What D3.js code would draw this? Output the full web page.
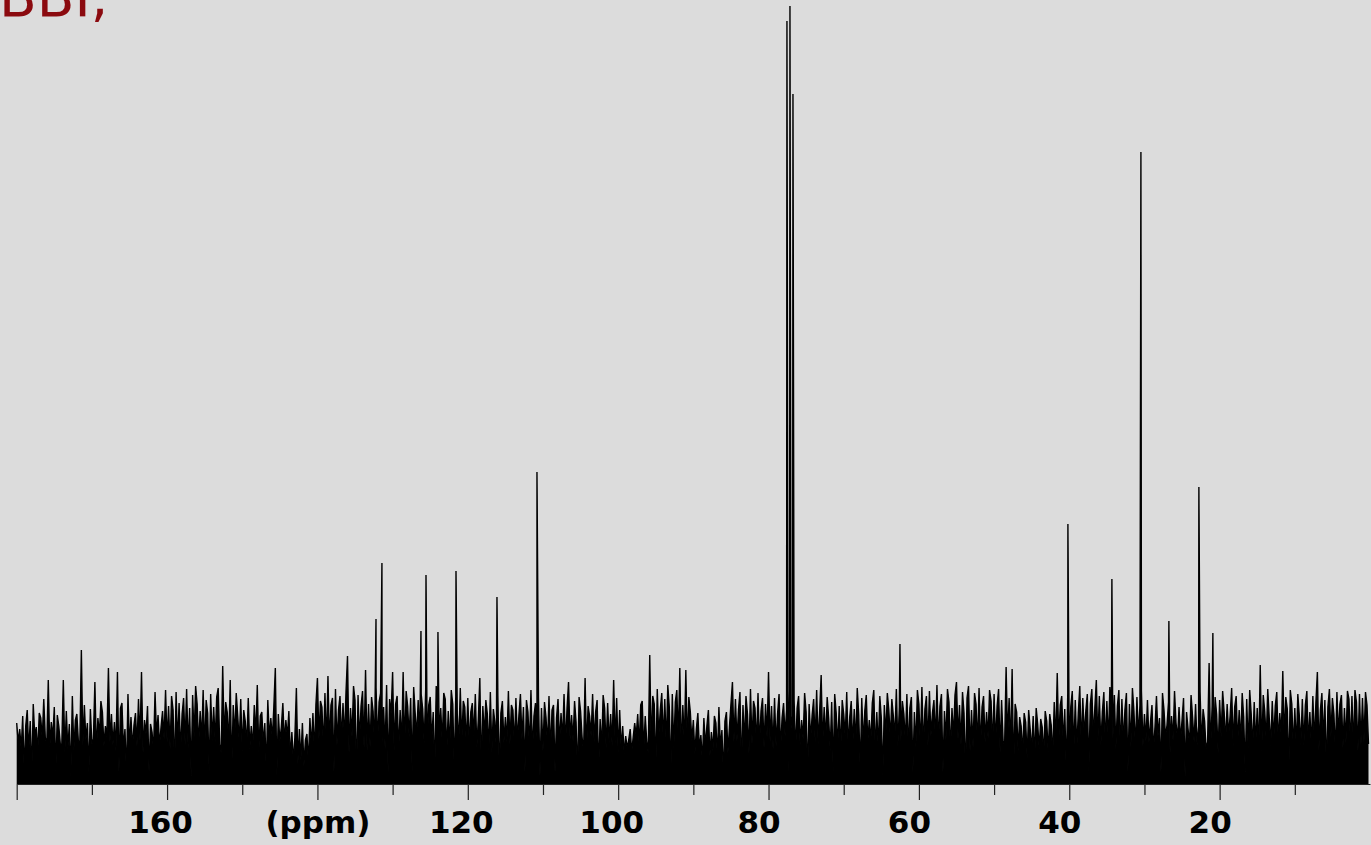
<!DOCTYPE html>
<html><head><meta charset="utf-8">
<script src="https://cdn.jsdelivr.net/npm/d3@7"></script>
<style>html,body{margin:0;padding:0;background:#dcdcdc;overflow:hidden}</style>
</head><body><svg id="chart" width="1371" height="845"></svg>
<script>
// ---- data ----
const titleText = "BBI,";
const noiseStartPpm = 180;
const noiseStepPpm = 0.2;
const noise = [
61,42,55,35,68,12,58,74,33,63, 8,80,48,57,31,71,66,45,85,47, 38,104,36,62,46,77,12,69,58,40, 39,104,31,73,35,60,8,88,33,64, 70,43,42,134,38,79,44,61,12,75,
40,45,102,31,66,49,83,72,38,58, 47,116,42,70,39,62,33,112,12,76, 81,35,55,8,90,37,67,36,59,71, 38,85,43,112,31,64,50,78,12,60, 52,33,92,48,69,38,57,73,45,94,
42,78,35,88,74,12,92,40,81,31, 70,86,39,95,36,76,8,89,47,98, 80,38,73,44,94,33,84,71,12,90, 43,77,42,87,96,40,31,118,45,82, 72,39,104,12,79,47,91,68,42,85,
33,74,63,38,86,35,58,36,79,48, 99,31,68,72,40,61,12,84,46,66, 45,77,116,8,70,43,57,81,42,64, 47,73,25,52,22,47,96,20,55,24, 61,18,44,50,21,66,37,71,31,80,
106,45,83,77,35,91,38,108,40,79, 86,12,95,39,74,88,42,81,44,92, 128,31,76,47,98,84,8,89,43,78, 93,36,114,33,80,37,87,73,38,96, 40,82,91,42,77,35,99,12,85,70,
112,33,80,88,31,74,39,112,36,93, 78,47,86,12,97,71,48,84,42,90, 75,40,95,38,79,87,43,72,8,98, 82,45,76,41,91,85,31,73,35,94, 80,12,88,70,40,96,42,83,77,39,
86,38,72,81,47,90,36,65,106,12, 78,48,84,70,33,92,31,75,62,35, 88,8,71,83,41,67,42,93,40,79, 74,38,86,43,69,90,45,77,12,84, 72,37,94,31,68,81,47,87,8,76,
33,82,67,39,88,31,74,79,12,66, 85,40,71,44,90,38,76,102,45,69, 43,83,62,8,87,73,47,31,106,33, 78,68,48,90,42,72,84,12,65,35, 89,76,36,81,41,70,38,104,40,86,
31,74,35,58,30,48,36,44,55,32, 47,61,48,70,38,79,83,33,68,43, 31,129,36,88,80,12,95,47,74,91, 42,85,37,99,77,8,90,35,82,94, 45,116,31,79,40,114,38,87,72,43,
64,30,55,71,35,49,22,66,38,58, 74,28,52,33,68,61,26,77,36,54, 8,63,72,31,57,80,102,42,85,43, 74,92,12,79,41,88,70,31,95,40, 83,76,38,91,39,73,86,36,80,47,
112,42,78,35,86,38,70,90,33,66, 81,48,74,12,93,68,47,84,31,76, 88,39,64,45,91,72,8,80,44,69, 85,42,94,40,73,109,38,77,43,87, 66,33,82,12,90,71,37,78,31,84,
70,47,92,36,67,83,38,75,39,96, 69,12,86,40,73,89,42,64,41,81, 94,31,72,35,88,66,8,79,48,91, 74,45,85,68,47,95,38,77,43,83, 70,42,90,33,76,87,12,72,37,94,
80,36,97,35,75,88,38,93,48,71, 84,42,99,40,78,90,12,73,44,95, 82,31,76,47,89,102,45,79,39,92, 71,8,86,98,33,74,37,91,80,38, 96,35,77,88,42,72,46,94,83,36,
90,40,78,95,31,84,43,38,117,45, 86,35,115,12,80,72,33,67,58,30, 71,62,26,74,55,33,68,24,76,60, 35,65,57,28,73,63,31,70,59,27, 82,40,111,42,79,88,39,75,12,91,
33,77,93,31,84,35,71,98,36,86, 48,73,90,12,80,95,47,76,104,42, 88,39,72,92,38,83,41,97,70,45, 89,35,78,94,31,85,40,74,91,12, 80,37,96,73,36,87,47,79,93,38,
70,43,84,42,62,79,33,57,88,48, 66,12,91,74,47,59,82,31,68,44, 93,61,45,77,43,64,86,8,72,55, 40,89,67,42,80,39,58,92,38,75, 63,35,42,121,33,78,37,87,70,31,
84,47,93,72,42,80,48,69,96,38, 77,88,40,74,41,91,67,12,85,35, 94,70,36,82,39,76,31,119,33,89, 73,43,95,66,38,83,44,78,92,42, 71,47,113,45,87,75,12,94,80,35,
76,36,90,68,39,85,38,79,93,40, 72,37,88,42,81,112,33,74,91,43, 84,12,77,95,47,86,70,31,92,48, 80,89,36,76,41,93,85,38,88,35, 94,82,33,90,39,86,42,92,79,40
];
const peakPpm    = [132.21, 131.42, 126.23, 125.56, 123.97, 121.57, 116.12, 110.80, 77.55, 77.15, 76.75, 62.52, 40.18, 34.33, 30.47, 26.75, 22.76, 20.90];
const peakHeight = [165,    221,    153,    209,    152,    213,    187,    312,    763,   778,   690,   140,   260,   205,   632,   163,   297,   151];
const majorTicks = [180, 160, 140, 120, 100, 80, 60, 40, 20];
const majorTickLabels = ["", "160", "(ppm)", "120", "100", "80", "60", "40", "20"];
const minorTicks = [170, 150, 130, 110, 90, 70, 50, 30, 10];

// ---- drawing ----
const W = 1371, H = 845;
const baseY = 784;
const svg = d3.select("#chart");
svg.append("rect").attr("width", W).attr("height", H).attr("fill", "#dcdcdc");

const x = d3.scaleLinear().domain([180, 0]).range([16.7, 1370]);
const y = d3.scaleLinear().domain([0, d3.max(peakHeight)]).range([baseY, 6]);

const points = noise.map((v, i) => ({ppm: noiseStartPpm - i * noiseStepPpm, v}))
  .concat(peakPpm.map((p, i) => ({ppm: p, v: peakHeight[i]})))
  .sort((a, b) => b.ppm - a.ppm);

// dense trace: fill under the trace plus the trace stroke
svg.append("path")
  .datum(points)
  .attr("d", d3.area().x(d => x(d.ppm)).y0(y(0)).y1(d => y(d.v)))
  .attr("fill", "#000")
  .attr("stroke", "none");

svg.append("path")
  .datum(points)
  .attr("d", d3.line().x(d => x(d.ppm)).y(d => y(d.v)))
  .attr("fill", "none")
  .attr("stroke", "#000")
  .attr("stroke-width", 1.4);

const gMinor = svg.append("g").attr("transform", `translate(0,${baseY})`)
  .call(d3.axisBottom(x).tickValues(minorTicks).tickSize(11).tickSizeOuter(0).tickFormat(""));
gMinor.select(".domain").remove();
gMinor.selectAll(".tick line").attr("stroke", "#222").attr("stroke-width", 1.2);

const gMajor = svg.append("g").attr("transform", `translate(0,${baseY})`)
  .call(d3.axisBottom(x).tickValues(majorTicks).tickSize(16).tickSizeOuter(0)
    .tickFormat((d, i) => majorTickLabels[i]));
gMajor.select(".domain").attr("stroke", "#222").attr("stroke-width", 1);
gMajor.selectAll(".tick line").attr("stroke", "#222").attr("stroke-width", 1.2);
gMajor.selectAll(".tick text")
  .attr("y", 49).attr("dy", 0)
  .attr("dx", d => { const t = majorTickLabels[majorTicks.indexOf(d)]; return t.length === 2 ? -10 : (t.length === 3 ? -7 : 0); })
  .attr("fill", "#000")
  .style("font-family", "'DejaVu Sans', Verdana, sans-serif")
  .style("font-weight", "bold")
  .style("font-size", "31px");

svg.append("text")
  .attr("x", -1).attr("y", 16)
  .attr("fill", "#8b0a0f")
  .style("font-family", "'DejaVu Sans', Verdana, sans-serif")
  .style("font-size", "55px")
  .text(titleText);
</script>
</body></html>
